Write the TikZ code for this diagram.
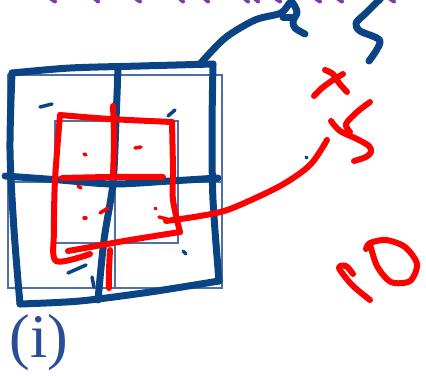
\documentclass[tikz,border=0pt]{standalone}
\usepackage{fontspec}
\setmainfont{Liberation Serif}
\definecolor{inkblue}{HTML}{0B4485}
\definecolor{inkred}{HTML}{FF0000}
\definecolor{gridblue}{HTML}{4F6FA8}
\definecolor{labblue}{HTML}{2B4C96}
\definecolor{inkpurple}{HTML}{7A3AB0}
\tikzset{
  blueink/.style={draw=inkblue, line width=7pt, line cap=round, line join=round},
  redink/.style={draw=inkred, line width=6pt, line cap=round, line join=round},
  dotink/.style={line width=3.5pt, line cap=round},
  gridline/.style={draw=gridblue, line width=1.3pt},
  purpleink/.style={draw=inkpurple, line width=4pt, line cap=round}
}
\begin{document}
\begin{tikzpicture}[x=1pt,y=-1pt]
\useasboundingbox (0,0) rectangle (426,376);
\begin{scope}
\clip (0,0) rectangle (426,376);
% thin printed grid
\draw[gridline] (8,75) rectangle (222,288);
\draw[gridline] (115,75) -- (115,288);
\draw[gridline] (8,182) -- (222,182);
\draw[gridline] (55,121) rectangle (178,243);
% purple text fragments at top edge
\foreach \a/\b in {47/55,92/98,132/140,177/183,202/208,242/248,252/258,272/280,312/320,334/342,374/380,386/394}
  \draw[purpleink] (\a,-4) -- (\b,1.5);
% thick blue hand-drawn square
\draw[blueink] plot[smooth] coordinates {(12,73) (70,68) (140,66) (213,64)};
\draw[blueink] plot[smooth] coordinates {(213,64) (212,130) (213,200) (219,281)};
\draw[blueink] plot[smooth] coordinates {(219,281) (150,292) (80,301) (20,304)};
\draw[blueink] plot[smooth] coordinates {(20,304) (14,230) (10,150) (12,73)};
\draw[blueink] plot[smooth] coordinates {(118,68) (116,120) (113,183) (104,240) (98,300)};
\draw[blueink] plot[smooth] coordinates {(5,176) (60,180) (113,184) (170,181) (218,178)};
% blue connector with loop
\draw[blueink] plot[smooth] coordinates {(200,64) (225,38) (255,20) (281,13) (291,2) (297,12) (293,21) (295,28) (305,34)};
\draw[blueink] (283,17) -- (292,17);
\draw[blueink] plot[smooth] coordinates {(381,-2) (366,13) (356,23) (360,31) (380,41) (369,61)};
% blue marks
\draw[inkblue,dotink] (40,107) -- (52,104);
\draw[inkblue,dotink] (168,116) -- (175,110);
\draw[inkblue,dotink] (183,251) -- (186,254);
\draw[inkblue,dotink] (68,273) -- (86,265);
\draw[inkblue,dotink] (92,277) -- (94,287);
\draw[inkblue,dotink] (306,157) -- (307,158);
% red hand-drawn square
\draw[redink] plot[smooth] coordinates {(60,115) (110,119) (172,122)};
\draw[redink] plot[smooth] coordinates {(172,122) (173,170) (173,200) (180,232)};
\draw[redink] plot[smooth] coordinates {(180,232) (130,240) (68,251)};
\draw[redink] plot[smooth] coordinates {(60,115) (55,180) (54,230) (56,261) (90,254)};
\draw[redink] plot[smooth] coordinates {(62,178) (110,177) (163,177)};
\draw[redink] plot[smooth] coordinates {(113,106) (114,140) (113,178)};
\draw[redink] plot[smooth] coordinates {(110,250) (109,270) (109,288)};
% red connector
\draw[redink] plot[smooth] coordinates {(166,221) (200,216) (230,209) (280,186) (310,165) (327,140)};
% red marks
\draw[inkred,dotink] (84,154) -- (86,155);
\draw[inkred,dotink] (135,148) -- (141,147);
\draw[inkred,dotink] (84,218) -- (86,218);
\draw[inkred,dotink] (100,213) -- (108,208);
\draw[inkred,dotink] (155,208) -- (156,209);
\draw[inkred,dotink] (159,217) -- (167,219);
\draw[inkred,dotink] (78,186) -- (81,188);
% red +
\draw[redink] plot[smooth] coordinates {(314,96) (322,88) (333,80) (343,74)};
\draw[redink] plot[smooth] coordinates {(325,70) (333,74) (339,83) (347,92)};
% red 5
\draw[redink] plot[smooth] coordinates {(370,102) (357,112) (346,124) (350,132)};
\draw[redink] plot[smooth] coordinates {(331,121) (340,131) (357,139) (369,146) (371,152) (366,157) (354,161)};
% red 10
\draw[redink] plot[smooth] coordinates {(353,274) (346,266) (339,268) (352,285) (370,300)};
\draw[redink] plot[smooth] coordinates {(366,249) (370,243) (386,240) (405,247) (417,264) (410,281) (391,282) (377,266) (370,244)};
\end{scope}
% label
\node[text=labblue, font=\fontsize{62}{62}\selectfont, inner sep=0pt] (lab) at (39,343) {(i)};
\end{tikzpicture}
\end{document}
